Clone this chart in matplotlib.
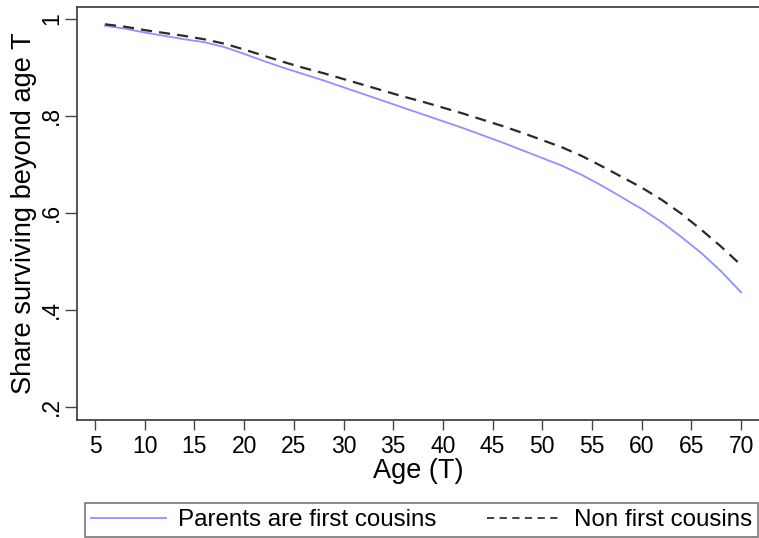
import matplotlib.pyplot as plt
from matplotlib.lines import Line2D

plt.rcParams['font.family'] = ['Liberation Sans', 'DejaVu Sans']

# Survival curves
age = [6, 8, 10, 12, 14, 16, 18, 20, 22, 24, 26, 28, 30, 32, 34, 36, 38,
       40, 42, 44, 46, 48, 50, 52, 54, 56, 58, 60, 62, 64, 66, 68, 70]
cousins = [0.986, 0.980, 0.972, 0.965, 0.958, 0.952, 0.942, 0.928, 0.913,
           0.899, 0.886, 0.873, 0.859, 0.845, 0.831, 0.817, 0.803, 0.789,
           0.775, 0.760, 0.745, 0.729, 0.713, 0.697, 0.678, 0.656, 0.632,
           0.608, 0.581, 0.550, 0.517, 0.479, 0.436]
non_cousins = [0.989, 0.984, 0.977, 0.971, 0.965, 0.958, 0.949, 0.937, 0.924,
               0.911, 0.899, 0.888, 0.876, 0.864, 0.852, 0.840, 0.829, 0.817,
               0.805, 0.792, 0.779, 0.765, 0.750, 0.735, 0.717, 0.696, 0.674,
               0.652, 0.627, 0.598, 0.565, 0.530, 0.492]

xticks = list(range(5, 75, 5))
yticks = [0.2, 0.4, 0.6, 0.8, 1.0]
ylabels = ['.2', '.4', '.6', '.8', '1']

fig = plt.figure(figsize=(7.59, 5.38), dpi=100)
ax = fig.add_axes([0.1019, 0.2193, 0.8981, 0.768])

ax.plot(age, cousins, color='#9090ff', linewidth=1.3, label='Parents are first cousins')
ax.plot(age, non_cousins, color='#2a2a2a', linewidth=1.6, linestyle=(0, (5, 3.2)),
        label='Non first cousins')

ax.set_xlim(3.22, 71.8)
ax.set_ylim(0.1725, 1.025)
ax.set_xticks(xticks)
ax.set_yticks(yticks)
ax.set_yticklabels(ylabels, rotation=90, va='center')
ax.tick_params(axis='x', labelsize=16.5, length=7, width=1, color='#444444', pad=4)
ax.tick_params(axis='y', labelsize=16.5, length=9, width=1, color='#444444', pad=1.5)

for side in ['left', 'top', 'bottom']:
    ax.spines[side].set_color('#444444')
    ax.spines[side].set_linewidth(1.3)
ax.spines['right'].set_visible(False)

ax.set_xlabel('Age (T)', fontsize=19.5, labelpad=0)
ax.set_ylabel('Share surviving beyond age T', fontsize=19.6, labelpad=2)

handles = [Line2D([], [], color='#9090ff', linewidth=1.3),
           Line2D([], [], color='#333333', linewidth=1.3, linestyle=(0, (4, 3)))]
leg = fig.legend(handles, ['Parents are first cousins', 'Non first cousins'],
                 loc='lower left', bbox_to_anchor=(85 / 759, 1 / 538, 673 / 759, 39 / 538),
                 mode='expand', ncol=2, fontsize=17.4, handlelength=3.1,
                 handletextpad=0.5, borderaxespad=0, fancybox=False,
                 borderpad=0.25, frameon=True)
leg.get_frame().set_edgecolor('#555555')
leg.get_frame().set_linewidth(1.2)

plt.savefig('out.png', dpi=100)
